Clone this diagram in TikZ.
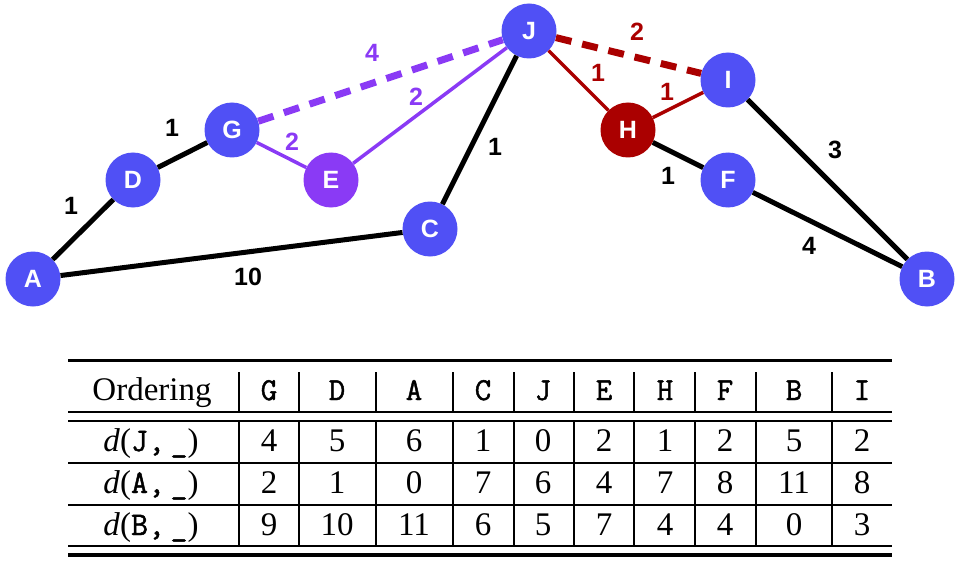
\documentclass[tikz,border=0pt]{standalone}
\usepackage{fontspec}
\setmainfont{Liberation Serif}
\newfontfamily\lsans{Liberation Sans}
\newfontfamily\mytt[FakeBold=1.4]{Latin Modern Mono}
\definecolor{nblue}{RGB}{80,80,245}
\definecolor{npurple}{RGB}{138,58,245}
\definecolor{nred}{RGB}{170,0,0}
\begin{document}
\begin{tikzpicture}[x=1pt,y=-1pt,
  vtx/.style={circle,fill=nblue,minimum size=55pt,inner sep=0pt,text=white,font=\lsans\bfseries\fontsize{25}{25}\selectfont},
  blk/.style={line width=5pt,black},
  purl/.style={line width=3.5pt,npurple},
  redl/.style={line width=3.5pt,nred},
  dsh/.style={line width=7pt,dash pattern=on 16pt off 11pt},
  wlab/.style={font=\lsans\bfseries\fontsize{25}{25}\selectfont,inner sep=0pt},
  tcell/.style={anchor=base,inner sep=0pt,font=\fontsize{33}{33}\selectfont},
  thead/.style={anchor=base,inner sep=0pt,font=\mytt\fontsize{32}{32}\selectfont},
  thinr/.style={line width=1.2pt},
]
\useasboundingbox (0,0) rectangle (957,564);
% nodes
\node[vtx] (A) at (33,279) {A};
\node[vtx] (D) at (133,180) {D};
\node[vtx] (G) at (232,130) {G};
\node[vtx,fill=npurple] (E) at (331,180) {E};
\node[vtx] (C) at (430,229) {C};
\node[vtx] (J) at (529,31) {J};
\node[vtx,fill=nred] (H) at (628,130) {H};
\node[vtx] (I) at (728,80) {I};
\node[vtx] (F) at (728,180) {F};
\node[vtx] (B) at (927,279) {B};
% edges
\draw[blk] (A) -- (D);
\draw[blk] (D) -- (G);
\draw[blk] (A) -- (C);
\draw[blk] (C) -- (J);
\draw[blk] (H) -- (F);
\draw[blk] (I) -- (B);
\draw[blk] (F) -- (B);
\draw[purl] (G) -- (E);
\draw[purl] (E) -- (J);
\draw[npurple,dsh] (G) -- (J);
\draw[redl] (J) -- (H);
\draw[redl] (H) -- (I);
\draw[nred,dsh] (J) -- (I);
% edge labels
\node[wlab] (lAD) at (71,206) {1};
\node[wlab] (lDG) at (172,128) {1};
\node[wlab] (lAC) at (248,277) {10};
\node[wlab] (lCJ) at (495,147) {1};
\node[wlab,text=npurple] (lGE) at (292,142) {2};
\node[wlab,text=npurple] (lEJ) at (416,97) {2};
\node[wlab,text=npurple] (lGJ) at (372,53) {4};
\node[wlab,text=nred] (lJI) at (637,32) {2};
\node[wlab,text=nred] (lJH) at (598,73) {1};
\node[wlab,text=nred] (lHI) at (667,92) {1};
\node[wlab] (lHF) at (668,176) {1};
\node[wlab] (lIB) at (835,150) {3};
\node[wlab] (lFB) at (809,246) {4};
% table rules
\draw[line width=3pt] (68,360) -- (892,360);
\draw[thinr] (68,412) -- (892,412);
\draw[thinr] (68,421) -- (892,421);
\draw[thinr] (68,463) -- (892,463);
\draw[thinr] (68,505) -- (892,505);
\draw[thinr] (68,546) -- (892,546);
\draw[line width=4pt] (68,555) -- (892,555);
\foreach \x in {239,299,376,453,514,574,634,695,756,832}{
  \draw[thinr] (\x,372) -- (\x,412);
  \draw[thinr] (\x,421) -- (\x,546);
}
% header
\node[tcell] (hOrd) at (152,400) {Ordering};
\node[thead] (hG) at (269,400) {G};
\node[thead] (hD) at (337,400) {D};
\node[thead] (hA) at (414,400) {A};
\node[thead] (hC) at (483,400) {C};
\node[thead] (hJ) at (543,400) {J};
\node[thead] (hE) at (604,400) {E};
\node[thead] (hH) at (665,400) {H};
\node[thead] (hF) at (725,400) {F};
\node[thead] (hB) at (794,400) {B};
\node[thead] (hI) at (862,400) {I};
% rows
\node[tcell] (rJ) at (151,451) {\textit{d}({\mytt J,\,\_})};
\node[tcell] (rA) at (151,493) {\textit{d}({\mytt A,\,\_})};
\node[tcell] (rB) at (151,535) {\textit{d}({\mytt B,\,\_})};
\foreach \v [count=\i] in {4,5,6,1,0,2,1,2,5,2}{
  \pgfmathsetmacro{\cx}{{269,337,414,483,543,604,665,725,794,862}[\i-1]}
  \node[tcell] (cJ\i) at (\cx,451) {\v};
}
\foreach \v [count=\i] in {2,1,0,7,6,4,7,8,11,8}{
  \pgfmathsetmacro{\cx}{{269,337,414,483,543,604,665,725,794,862}[\i-1]}
  \node[tcell] (cA\i) at (\cx,493) {\v};
}
\foreach \v [count=\i] in {9,10,11,6,5,7,4,4,0,3}{
  \pgfmathsetmacro{\cx}{{269,337,414,483,543,604,665,725,794,862}[\i-1]}
  \node[tcell] (cB\i) at (\cx,535) {\v};
}
\end{tikzpicture}
\end{document}
